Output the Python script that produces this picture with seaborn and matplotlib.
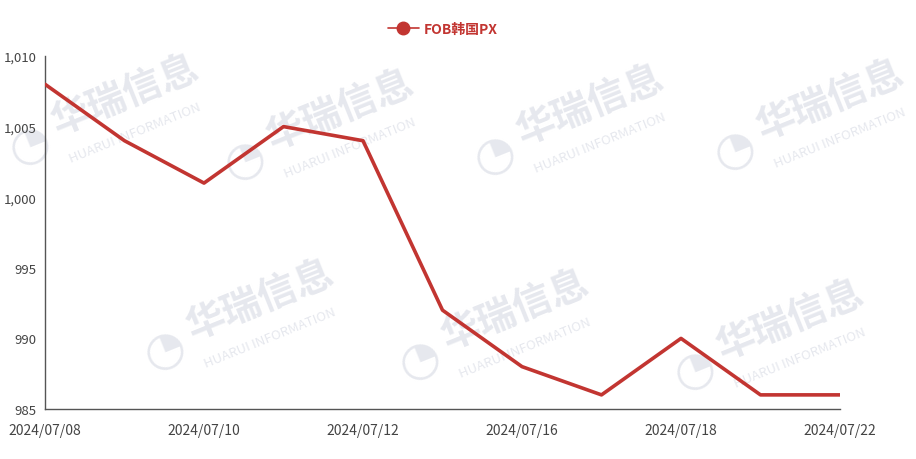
import numpy as np
import pandas as pd
import matplotlib
matplotlib.use('Agg')
import matplotlib.pyplot as plt
import seaborn as sns

dates = ['2024/07/08', '2024/07/09', '2024/07/10', '2024/07/11', '2024/07/12',
         '2024/07/15', '2024/07/16', '2024/07/17', '2024/07/18', '2024/07/19',
         '2024/07/22']
prices = [1008, 1004, 1001, 1005, 1004, 992, 988, 986, 990, 986, 986]
series_name = 'FOB韩国PX'
y_ticks = [985, 990, 995, 1000, 1005, 1010]

sns.set_style('white')
plt.rcParams['font.family'] = ['Noto Sans CJK SC', 'DejaVu Sans']

df = pd.DataFrame({'pos': np.arange(len(dates)), 'price': prices, 'series': series_name})

fig = plt.figure(figsize=(9.16, 4.6), dpi=100)
ax = fig.add_axes([45 / 916, 50 / 460, 795 / 916, 353 / 460])
ax.set_zorder(2)
ax.patch.set_alpha(0)

# watermarks (behind the axes)
marks = [(125, 95), (340, 110), (590, 105), (830, 100), (260, 300), (515, 310), (790, 320)]
for cx, cy in marks:
    fig.text(cx / 916, 1 - cy / 460, '华瑞信息', fontsize=28, fontweight='bold',
             color='#e6e8ee', rotation=22, ha='center', va='center', zorder=0)
    fig.text((cx + 10) / 916, 1 - (cy + 38) / 460, 'HUARUI INFORMATION', fontsize=9.5,
             color='#e6e8ee', rotation=22, ha='center', va='center', zorder=0)
    fig.text((cx - 95) / 916, 1 - (cy + 50) / 460, '◔', fontsize=34,
             color='#e6e8ee', rotation=22, ha='center', va='center', zorder=0,
             family='DejaVu Sans')

sns.lineplot(data=df, x='pos', y='price', color='#c23531', linewidth=2.6,
             ax=ax, legend=False, zorder=3)

ax.set_xlim(0, len(dates) - 1)
ax.set_ylim(985, 1010)
tick_pos = list(range(0, len(dates), 2))
ax.set_xticks(tick_pos)
ax.set_xticklabels([dates[i] for i in tick_pos])
ax.set_yticks(y_ticks)
ax.set_yticklabels([f'{v:,}' for v in y_ticks])
ax.set_xlabel('')
ax.set_ylabel('')

for side in ['top', 'right']:
    ax.spines[side].set_visible(False)
for side in ['left', 'bottom']:
    ax.spines[side].set_color('#555555')
    ax.spines[side].set_linewidth(1)
ax.tick_params(axis='both', which='both', length=4, width=1, color='#555555',
               labelcolor='#444444', labelsize=9.5, direction='out')
ax.tick_params(axis='x', pad=6, labelsize=10)
ax.tick_params(axis='y', pad=2)

# legend at top
ax.plot([], [], color='#c23531', linewidth=1.2, marker='o', markersize=9,
        label=series_name)
leg = fig.legend(loc='center', bbox_to_anchor=(443 / 916, 1 - 30 / 460), frameon=False,
                 handlelength=2.2, handletextpad=0.4, prop={'size': 10, 'weight': 'bold'})
for t in leg.get_texts():
    t.set_color('#c23531')

fig.savefig('out.png', dpi=100)
